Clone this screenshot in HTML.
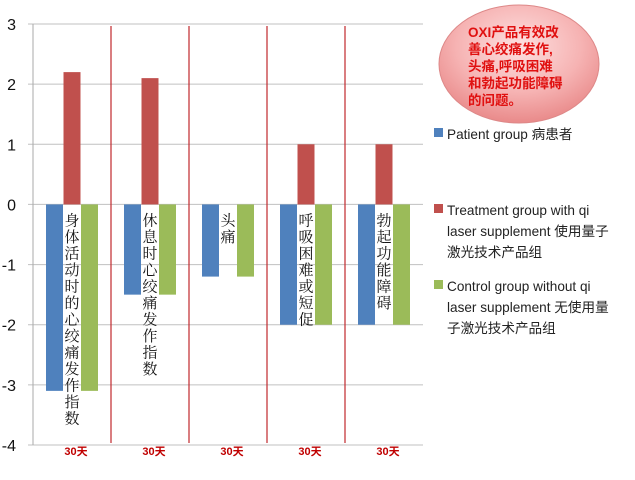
<!DOCTYPE html>
<html><head><meta charset="utf-8"><style>
body{margin:0;background:#fff;width:635px;height:475px;overflow:hidden;font-family:"Liberation Sans","Noto Sans CJK SC",sans-serif}
</style></head><body>
<svg width="635" height="475" id="chart">
<defs><radialGradient id="eg" cx="50%" cy="35%" r="65%"><stop offset="0" stop-color="#fde0e0"/><stop offset="0.6" stop-color="#f6b3b3"/><stop offset="1" stop-color="#e98a8a"/></radialGradient></defs>
<g id="grid"></g><g id="bars"></g><g id="labels"></g>
<g>
<ellipse cx="519" cy="64" rx="80" ry="59" fill="url(#eg)" stroke="#d88" stroke-width="1"/>
<text font-size="13.5" font-weight="bold" fill="#e01010" font-family="Liberation Sans,'Noto Sans CJK SC',sans-serif">
<tspan x="468" y="37">OXI产品有效改</tspan><tspan x="468" y="54">善心绞痛发作,</tspan><tspan x="468" y="71">头痛,呼吸困难</tspan><tspan x="468" y="88">和勃起功能障碍</tspan><tspan x="468" y="105">的问题。</tspan></text></g>
<g font-size="13.6" fill="#222">
<g><rect x="434" y="128" width="9" height="9" fill="#4f81bd"/><text x="447" y="139">Patient group 病患者</text></g>
<g><rect x="434" y="204" width="9" height="9" fill="#c0504d"/><text x="447" y="215">Treatment group with qi</text><text x="447" y="236">laser supplement 使用量子</text><text x="447" y="257">激光技术产品组</text></g>
<g><rect x="434" y="280" width="9" height="9" fill="#9bbb59"/><text x="447" y="291">Control group without qi</text><text x="447" y="312">laser supplement 无使用量</text><text x="447" y="333">子激光技术产品组</text></g>
</g>
</svg>
<script>
const categories=["身体活动时的心绞痛发作指数","休息时心绞痛发作指数","头痛","呼吸困难或短促","勃起功能障碍"];
const patient=[-3.1,-1.5,-1.2,-2,-2];
const treatment=[2.2,2.1,0,1,1];
const control=[-3.1,-1.5,-1.2,-2,-2];
const yTicks=[3,2,1,0,-1,-2,-3,-4];
const xLabels=["30天","30天","30天","30天","30天"];
const NS="http://www.w3.org/2000/svg";
const L=33,R=423,T=24,B=445,yMax=3,yMin=-4;
const y=v=>T+(yMax-v)/(yMax-yMin)*(B-T);
const bw=(R-L)/categories.length;
const xc=i=>L+bw*(i+0.5);
function mk(tag,attrs,parent){const e=document.createElementNS(NS,tag);for(const k in attrs)e.setAttribute(k,attrs[k]);parent.appendChild(e);return e;}
const grid=document.getElementById('grid'),bars=document.getElementById('bars'),labels=document.getElementById('labels');
yTicks.forEach(t=>{
 const l=mk('line',{x1:L-5,x2:R,y1:y(t),y2:y(t),stroke:'#c0c0c0','stroke-width':1},grid);
 
 
 const tx=mk('text',{x:16,y:y(t)+6,'font-size':16,'text-anchor':'end',fill:'#111'},labels);
 tx.textContent=t;
 
 
});
mk('line',{x1:L,x2:L,y1:T,y2:B,stroke:'#aaa'},grid);
for(let i=1;i<categories.length;i++){
 const l=mk('line',{x1:L+bw*i,x2:L+bw*i,y1:T+2,y2:B-2,stroke:'#c0282d','stroke-width':1.2},grid);
 
 
}
const series=[[patient,'#4f81bd','patient'],[treatment,'#c0504d','treatment'],[control,'#9bbb59','control']];
const w=17;
categories.forEach((c,i)=>{
 series.forEach(([arr,col,nm],s)=>{
  const v=arr[i];const x=xc(i)+(s-1)*w-w/2+ (s-1)*0.5;
  const r=mk('rect',{x:x,y:Math.min(y(v),y(0)),width:w,height:Math.abs(y(v)-y(0)),fill:col},bars);
  
  
 });
 const tg=mk('text',{'font-size':15,fill:'#111','text-anchor':'middle','font-family':"'Noto Serif CJK SC',serif"},labels);
 
 
 [...c].forEach((ch,k)=>{const ts=mk('tspan',{x:xc(i),y:y(0)+21+k*16.5},tg);ts.textContent=ch;});
 const xl=mk('text',{x:xc(i)+4,y:455,'font-size':11,'font-weight':'bold',fill:'#c00000','text-anchor':'middle'},labels);
 xl.textContent=xLabels[i];
 
 
});
</script>
</body></html>
